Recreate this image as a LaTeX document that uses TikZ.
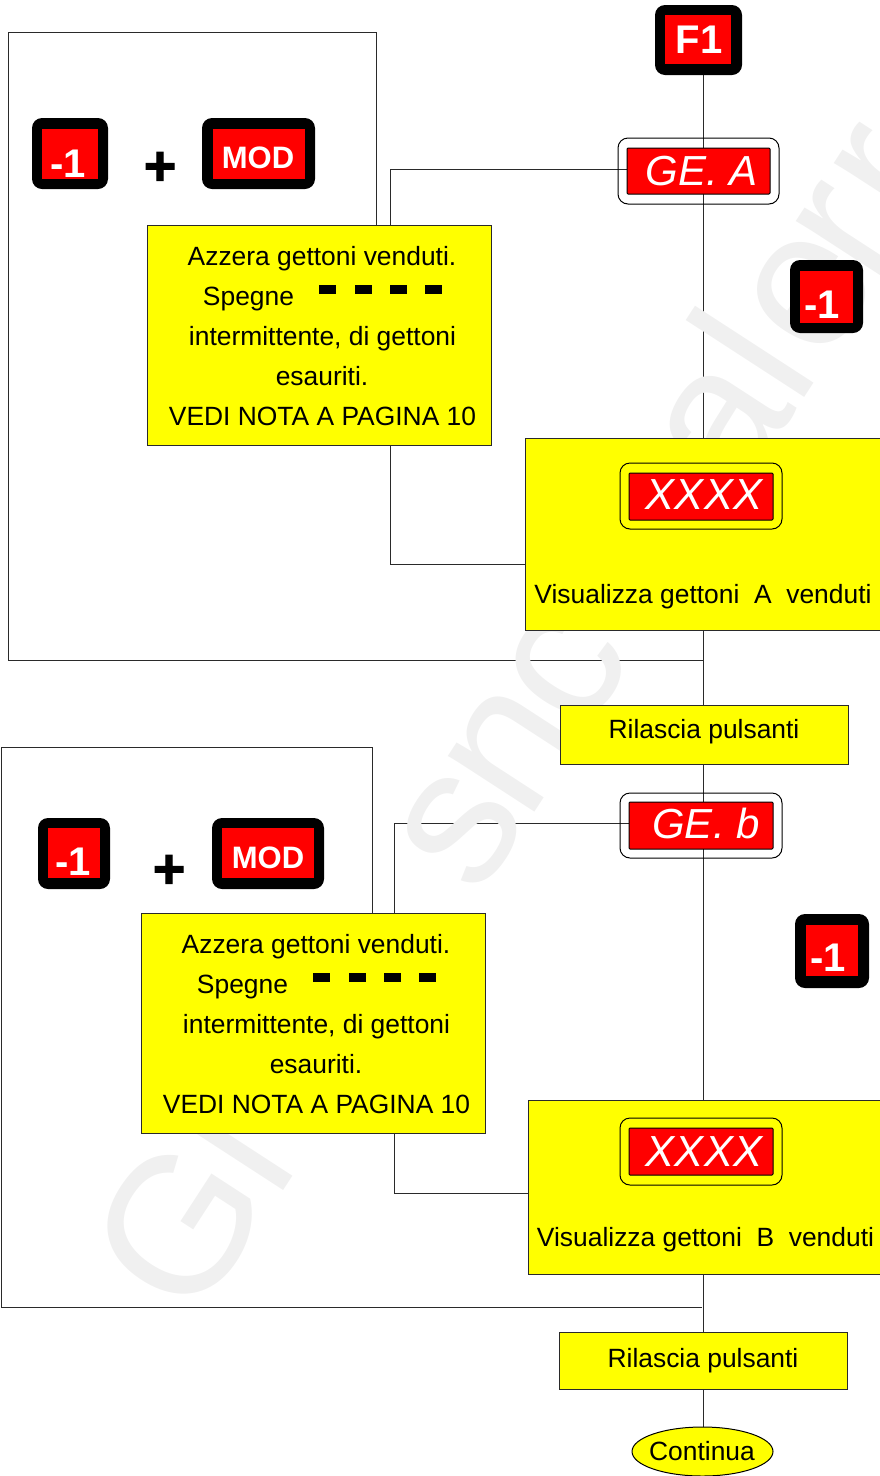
\documentclass[tikz,border=0pt]{standalone}
\usepackage{fontspec}
\setmainfont{Liberation Sans}
\newfontface\plusfont[FakeBold=1.6]{Liberation Sans Bold}
\usetikzlibrary{shapes.geometric,backgrounds}
\definecolor{wmgray}{HTML}{F0F0F0}
\definecolor{linegray}{HTML}{2A2A2A}
\definecolor{pureyellow}{HTML}{FFFF00}
\definecolor{purered}{HTML}{FF0000}
\newcommand\fs[1]{\fontsize{#1}{#1}\selectfont}
\newcommand\bx[6]{%
 \pgfmathsetmacro\bw{#5-#3}\pgfmathsetmacro\bh{#6-#4}%
 \pgfmathsetmacro\bcx{(#3+#5)/2}\pgfmathsetmacro\bcy{(#4+#6)/2}%
 \node[#1,minimum width=\bw pt,minimum height=\bh pt] (#2) at (\bcx,\bcy) {};}
\newcommand\wm[3]{%
 \pgfmathsetmacro\wx{240+.546*#2}\pgfmathsetmacro\wy{1264-.838*#2}%
 \node[wmark] (#3) at (\wx,\wy) {#1};}
\tikzset{
 every node/.style={inner sep=0pt,outer sep=0pt},
 keyouter/.style={fill=black,rounded corners=10pt,rectangle},
 keyred/.style={fill=purered,rectangle},
 keytext/.style={anchor=base,text=white,font=\bfseries\fs{40}},
 modtext/.style={anchor=base,text=white,font=\bfseries\fs{31}},
 disp/.style={fill=purered,draw=black,line width=1pt,rounded corners=1pt,rectangle},
 dispouter/.style={draw=black,line width=1pt,rounded corners=10pt,rectangle},
 disptext/.style={anchor=base,text=white,font=\itshape\fs{42}},
 xtext/.style={anchor=base,text=white,font=\itshape\fs{43.5}},
 ybox/.style={fill=pureyellow,draw=linegray,line width=1pt,rectangle},
 ytext/.style={anchor=base,text=black,font=\fs{26.4}},
 plustext/.style={anchor=base,text=black,font=\plusfont\fs{56}},
 dashbar/.style={fill=black,rectangle},
 conn/.style={draw=linegray,line width=1pt},
 wmark/.style={anchor=base,rotate=57,text=wmgray,font=\fs{195}},
}
\begin{document}
\begin{tikzpicture}[x=1pt,y=-1pt]
\useasboundingbox (0,0) rectangle (880,1476);
\clip (0,0) rectangle (880,1476);
\coordinate (tr) at (703,0);
% watermark
\node[wmark] (w1) at (235,1262) {G};
\node[wmark] (w2) at (288,1183) {i};
\wm{s}{485}{w3}\wm{n}{580}{w4}\wm{c}{678}{w5}
\wm{a}{967}{w6}\wm{l}{1043}{w7}\wm{e}{1125}{w8}\wm{r}{1197}{w9}\wm{r}{1266}{w10}
% outlines and display frames under the lines
\bx{dispouter}{gao}{618}{138}{779}{204}
\bx{dispouter}{gbo}{620}{793}{782}{858}
% main nodes
\bx{keyouter}{f1o}{655}{5}{742}{75}
\bx{keyred}{f1r}{665}{15}{731}{64}
\node[keytext] (f1t) at (699,53) {F1};
\bx{disp}{ga}{627}{148}{770}{194}
\node[disptext] (gat) at (702,185) {GE. A};
% group A
\bx{keyouter}{k1o}{32}{118}{108}{189}
\bx{keyred}{k1r}{42}{129}{98}{179}
\node[keytext] (k1t) at (68,177) {-1};
\node[plustext] (p1) at (160,185) {+};
\bx{keyouter}{m1o}{202}{118}{315}{189}
\bx{keyred}{m1r}{213}{129}{305}{179}
\node[modtext] (m1t) at (258,168) {MOD};
\bx{ybox}{n1}{147}{225}{491}{445}
\node[ytext] at (322,265) (a1) {Azzera gettoni venduti.};
\node[ytext] at (248.5,305) (a2) {Spegne};
\node[ytext] at (322.5,345) (a3) {intermittente, di gettoni};
\node[ytext] at (322,385) (a4) {esauriti.};
\node[ytext] at (322.5,425) (a5) {VEDI NOTA A PAGINA 10};
\bx{dashbar}{d1}{319}{285}{336}{294}
\bx{dashbar}{d2}{355}{285}{372}{294}
\bx{dashbar}{d3}{390}{285}{407}{294}
\bx{dashbar}{d4}{425}{285}{442}{294}
\bx{keyouter}{k2o}{790}{260}{863}{333}
\bx{keyred}{k2r}{800}{271}{853}{323}
\node[keytext] (k2t) at (822,318) {-1};
\bx{ybox}{v1}{525}{438}{881}{630}
\bx{dispouter}{x1o}{620}{463}{782}{529}
\bx{disp}{x1}{629}{473}{773}{520}
\node[xtext] (x1t) at (704,509) {XXXX};
\node[ytext] (v1t) at (703,603) {Visualizza gettoni\ \ A\ \ venduti};
\bx{ybox}{r1}{560}{705}{848}{764}
\node[ytext] (r1t) at (704,738) {Rilascia pulsanti};
% group B
\bx{disp}{gb}{629}{802}{773}{849}
\node[disptext] (gbt) at (706,838) {GE. b};
\bx{keyouter}{k3o}{38}{818}{110}{889}
\bx{keyred}{k3r}{48}{828}{100}{878}
\node[keytext] (k3t) at (73,875) {-1};
\node[plustext] (p2) at (169,888) {+};
\bx{keyouter}{m2o}{212}{818}{324}{889}
\bx{keyred}{m2r}{222}{828}{314}{878}
\node[modtext] (m2t) at (268,868) {MOD};
\bx{ybox}{n2}{141}{913}{485}{1133}
\node[ytext] at (316,953) (b1) {Azzera gettoni venduti.};
\node[ytext] at (242.5,993) (b2) {Spegne};
\node[ytext] at (316.5,1033) (b3) {intermittente, di gettoni};
\node[ytext] at (316,1073) (b4) {esauriti.};
\node[ytext] at (316.5,1113) (b5) {VEDI NOTA A PAGINA 10};
\bx{dashbar}{e1}{313}{973}{330}{982}
\bx{dashbar}{e2}{349}{973}{366}{982}
\bx{dashbar}{e3}{384}{973}{401}{982}
\bx{dashbar}{e4}{419}{973}{436}{982}
\bx{keyouter}{k4o}{795}{914}{869}{988}
\bx{keyred}{k4r}{806}{925}{858}{976}
\node[keytext] (k4t) at (828,971) {-1};
\bx{ybox}{v2}{528}{1100}{881}{1274}
\bx{dispouter}{x2o}{620}{1118}{782}{1185}
\bx{disp}{x2}{629}{1128}{773}{1175}
\node[xtext] (x2t) at (704,1166) {XXXX};
\node[ytext] (v2t) at (705.5,1246) {Visualizza gettoni\ \ B\ \ venduti};
\bx{ybox}{r2}{559.5}{1332}{847}{1389}
\node[ytext] (r2t) at (703,1367) {Rilascia pulsanti};
\node[ellipse,fill=pureyellow,draw=black,line width=1pt,minimum width=141pt,minimum height=49pt] (cont) at (702.5,1451.5) {};
\node[ytext] (contt) at (702,1460) {Continua};
% connectors
\begin{scope}[on background layer]
\coordinate (o1) at (703,660);
\coordinate (o2) at (702,1307);
\path[conn] (tr |- f1o.south) -- (tr |- ga.north);
\path[conn] (tr |- ga.south) -- (tr |- v1.north);
\path[conn] (tr |- v1.south) -- (tr |- r1.north);
\path[conn] (tr |- r1.south) -- (tr |- gb.north);
\path[conn] (tr |- gb.south) -- (tr |- v2.north);
\path[conn] (tr |- v2.south) -- (tr |- r2.north);
\path[conn] (tr |- r2.south) -- (tr |- cont.north);
\path[conn] ([yshift=2pt]ga.west) -| ([xshift=71pt]n1.north);
\path[conn] ([xshift=71pt]n1.south) |- ([yshift=-30pt]v1.west);
\path[conn] ([yshift=2.5pt]gb.west) -| ([xshift=81pt]n2.north);
\path[conn] ([xshift=81pt]n2.south) |- ([yshift=-6pt]v2.west);
\path[conn] (o1) -- (8,660) -- (8,32) -- (376,32) -- (376,225);
\path[conn] (o2) -- (1,1307) -- (1,747) -- (372,747) -- (372,913);
\end{scope}
\end{tikzpicture}
\end{document}
